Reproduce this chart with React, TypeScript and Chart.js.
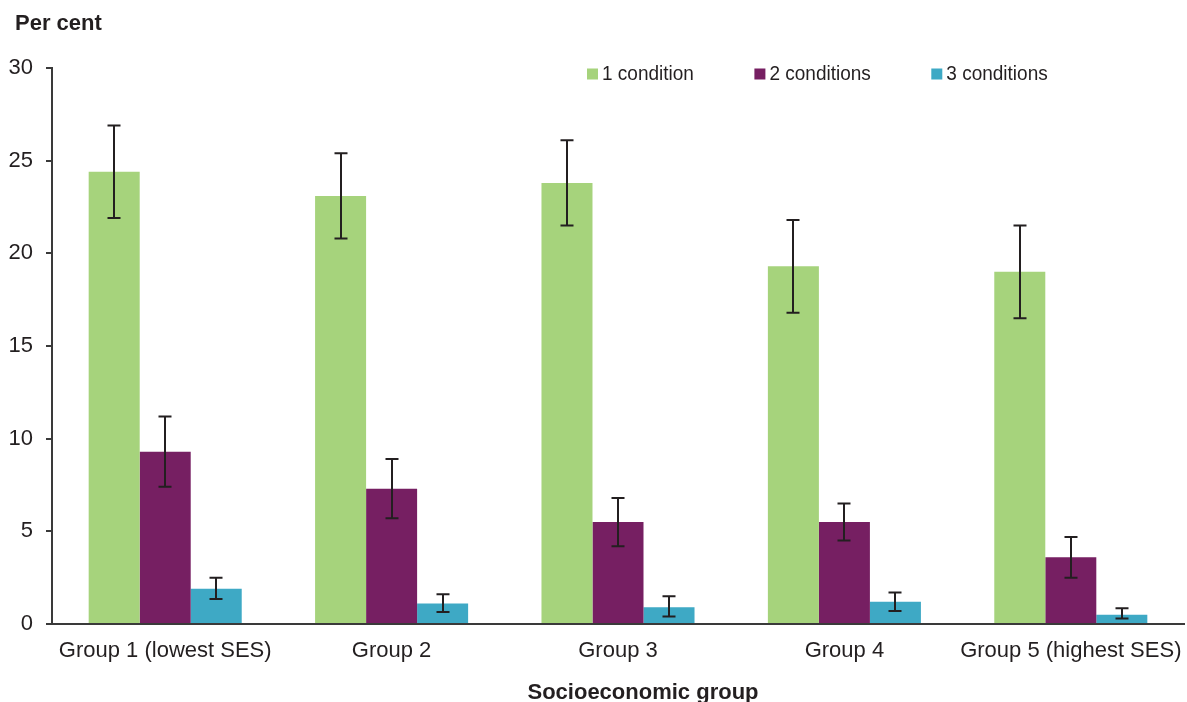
import React, { useEffect, useRef } from 'react';
import { Chart, registerables } from 'chart.js';

Chart.register(...registerables);

const categories = ['Group 1 (lowest SES)', 'Group 2', 'Group 3', 'Group 4', 'Group 5 (highest SES)'];
const seriesLabels = ['1 condition', '2 conditions', '3 conditions'];
const oneCond = [24.4, 23.1, 23.8, 19.3, 19.0];
const oneLow = [21.9, 20.8, 21.5, 16.8, 16.5];
const oneHigh = [26.9, 25.4, 26.1, 21.8, 21.5];
const twoCond = [9.3, 7.3, 5.5, 5.5, 3.6];
const twoLow = [7.4, 5.7, 4.2, 4.5, 2.5];
const twoHigh = [11.2, 8.9, 6.8, 6.5, 4.7];
const threeCond = [1.9, 1.1, 0.9, 1.2, 0.5];
const threeLow = [1.35, 0.65, 0.4, 0.7, 0.3];
const threeHigh = [2.5, 1.6, 1.5, 1.7, 0.85];
const yTicks = [0, 5, 10, 15, 20, 25, 30];
const xTitle = 'Socioeconomic group';
const yTitle = 'Per cent';

const colors = ['#a6d37c', '#761f62', '#3ea9c5'];
const FONT = "'Liberation Sans', Arial, sans-serif";
const TEXT = '#231f20';

const lows = [oneLow, twoLow, threeLow];
const highs = [oneHigh, twoHigh, threeHigh];

const errorBarPlugin = {
  id: 'errorBars',
  afterDatasetsDraw(chart: any) {
    const ctx = chart.ctx;
    const yScale = chart.scales.y;
    ctx.save();
    ctx.strokeStyle = '#231f20';
    ctx.lineWidth = 2;
    chart.data.datasets.forEach((ds: any, di: number) => {
      const meta = chart.getDatasetMeta(di);
      meta.data.forEach((el: any, i: number) => {
        const x = Math.round(el.x);
        const yl = yScale.getPixelForValue(lows[di][i]);
        const yh = yScale.getPixelForValue(highs[di][i]);
        ctx.beginPath();
        ctx.moveTo(x, yl);
        ctx.lineTo(x, yh);
        ctx.moveTo(x - 6.5, yl);
        ctx.lineTo(x + 6.5, yl);
        ctx.moveTo(x - 6.5, yh);
        ctx.lineTo(x + 6.5, yh);
        ctx.stroke();
      });
    });
    ctx.restore();
  },
};

const textPlugin = {
  id: 'customText',
  afterDraw(chart: any) {
    const ctx = chart.ctx;
    const area = chart.chartArea;
    ctx.save();
    ctx.fillStyle = TEXT;
    ctx.font = `bold 22px ${FONT}`;
    ctx.textAlign = 'left';
    ctx.textBaseline = 'middle';
    ctx.fillText(yTitle, 15, 24);
    ctx.textAlign = 'center';
    ctx.textBaseline = 'alphabetic';
    ctx.fillText(xTitle, (area.left + area.right) / 2 + 25, 699);
    ctx.textAlign = 'left';
    ctx.textBaseline = 'middle';
    ctx.font = `20px ${FONT}`;
    let x = area.left + 535;
    const y = 74;
    chart.data.datasets.forEach((ds: any) => {
      ctx.fillStyle = ds.backgroundColor;
      ctx.fillRect(x, y - 5.5, 11, 11);
      ctx.fillStyle = TEXT;
      ctx.save();
      ctx.translate(x + 15, y);
      ctx.scale(0.95, 1);
      ctx.fillText(ds.label, 0, 0);
      ctx.restore();
      x += 15 + ctx.measureText(ds.label).width * 0.95 + 60.5;
    });
    ctx.restore();
  },
};

export default function App() {
  const ref = useRef<HTMLCanvasElement>(null);
  useEffect(() => {
    if (!ref.current) return;
    const chart = new Chart(ref.current, {
      type: 'bar',
      data: {
        labels: categories,
        datasets: [
          { label: seriesLabels[0], data: oneCond, backgroundColor: colors[0] },
          { label: seriesLabels[1], data: twoCond, backgroundColor: colors[1] },
          { label: seriesLabels[2], data: threeCond, backgroundColor: colors[2] },
        ],
      },
      options: {
        animation: false,
        responsive: true,
        maintainAspectRatio: false,
        layout: { padding: { top: 68, right: 3, left: 0, bottom: 0 } },
        datasets: { bar: { categoryPercentage: 0.676, barPercentage: 1 } },
        plugins: { legend: { display: false }, tooltip: { enabled: false } },
        scales: {
          x: {
            grid: { display: false, drawTicks: false },
            border: { display: true, color: '#3a3a3a', width: 2 },
            ticks: { color: TEXT, font: { family: FONT, size: 22 }, padding: 14, maxRotation: 0, autoSkip: false },
            title: { display: false },
            afterFit: (s: any) => { s.height = 78; s.paddingLeft = 0; s.paddingRight = 0; },
          },
          y: {
            min: 0,
            max: 30,
            afterBuildTicks: (s: any) => { s.ticks = yTicks.map((v) => ({ value: v })); },
            grid: { display: true, drawOnChartArea: false, drawTicks: true, tickLength: 6, color: '#3a3a3a', lineWidth: 2 },
            border: { display: true, color: '#3a3a3a', width: 2 },
            ticks: { color: TEXT, font: { family: FONT, size: 22 }, padding: 13 },
            afterFit: (s: any) => { s.width = 52; s.paddingTop = 0; s.paddingBottom = 0; },
          },
        },
      },
      plugins: [errorBarPlugin, textPlugin],
    });
    return () => chart.destroy();
  }, []);
  return (
    <div style={{ position: 'fixed', left: 0, top: 0, width: 1187, height: 702, background: '#fff' }}>
      <canvas ref={ref} />
    </div>
  );
}
